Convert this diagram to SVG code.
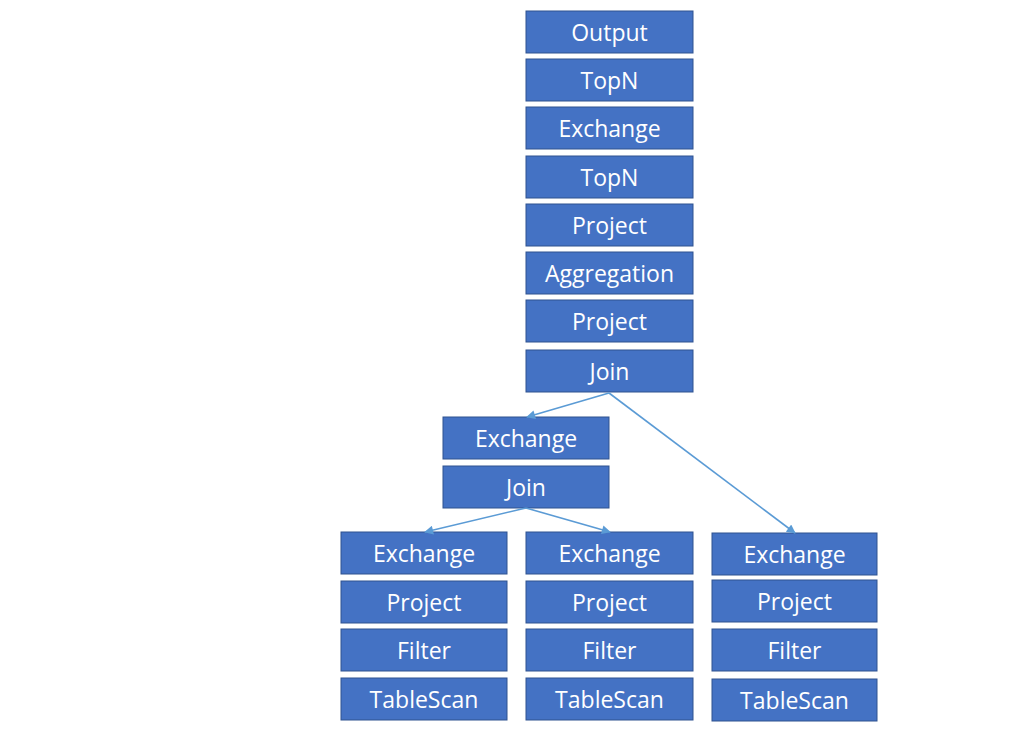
<svg xmlns="http://www.w3.org/2000/svg" width="1026" height="729" viewBox="0 0 1026 729">
<style>
.b{fill:#4472C4;stroke:#2F528F;stroke-width:1}
.t{fill:#fff;font-family:"Open Sans","Liberation Sans",sans-serif;font-size:23px;text-anchor:middle;dominant-baseline:central}
.c{stroke:#5B9BD5;stroke-width:1.6;fill:none;marker-end:url(#ah)}
</style>
<defs>
<marker id="ah" viewBox="0 0 10 10" refX="9" refY="5" markerWidth="10" markerHeight="9" markerUnits="userSpaceOnUse" orient="auto"><path d="M0,0L10,5L0,10z" fill="#5B9BD5"/></marker>
</defs>
<rect width="1026" height="729" fill="#fff"/>
<g id="n1"><rect class="b" x="526" y="11" width="167" height="42"/><text class="t" x="609.5" y="32">Output</text></g>
<g id="n2"><rect class="b" x="526" y="59" width="167" height="42"/><text class="t" x="609.5" y="80">TopN</text></g>
<g id="n3"><rect class="b" x="526" y="107" width="167" height="42"/><text class="t" x="609.5" y="128">Exchange</text></g>
<g id="n4"><rect class="b" x="526" y="156" width="167" height="42"/><text class="t" x="609.5" y="177">TopN</text></g>
<g id="n5"><rect class="b" x="526" y="204" width="167" height="42"/><text class="t" x="609.5" y="225">Project</text></g>
<g id="n6"><rect class="b" x="526" y="252" width="167" height="42"/><text class="t" x="609.5" y="273">Aggregation</text></g>
<g id="n7"><rect class="b" x="526" y="300" width="167" height="42"/><text class="t" x="609.5" y="321">Project</text></g>
<g id="n8"><rect class="b" x="526" y="350" width="167" height="42"/><text class="t" x="609.5" y="371">Join</text></g>
<g id="n9"><rect class="b" x="443" y="417" width="166" height="42"/><text class="t" x="526" y="438">Exchange</text></g>
<g id="n10"><rect class="b" x="443" y="466" width="166" height="42"/><text class="t" x="526" y="487">Join</text></g>
<g id="n11"><rect class="b" x="341" y="532" width="166" height="42"/><text class="t" x="424" y="553">Exchange</text></g>
<g id="n12"><rect class="b" x="341" y="581" width="166" height="42"/><text class="t" x="424" y="602">Project</text></g>
<g id="n13"><rect class="b" x="341" y="629" width="166" height="42"/><text class="t" x="424" y="650">Filter</text></g>
<g id="n14"><rect class="b" x="341" y="678" width="166" height="42"/><text class="t" x="424" y="699">TableScan</text></g>
<g id="n15"><rect class="b" x="526" y="532" width="167" height="42"/><text class="t" x="609.5" y="553">Exchange</text></g>
<g id="n16"><rect class="b" x="526" y="581" width="167" height="42"/><text class="t" x="609.5" y="602">Project</text></g>
<g id="n17"><rect class="b" x="526" y="629" width="167" height="42"/><text class="t" x="609.5" y="650">Filter</text></g>
<g id="n18"><rect class="b" x="526" y="678" width="167" height="42"/><text class="t" x="609.5" y="699">TableScan</text></g>
<g id="n19"><rect class="b" x="712" y="533" width="165" height="42"/><text class="t" x="794.5" y="554">Exchange</text></g>
<g id="n20"><rect class="b" x="712" y="580" width="165" height="42"/><text class="t" x="794.5" y="601">Project</text></g>
<g id="n21"><rect class="b" x="712" y="629" width="165" height="42"/><text class="t" x="794.5" y="650">Filter</text></g>
<g id="n22"><rect class="b" x="712" y="679" width="165" height="42"/><text class="t" x="794.5" y="700">TableScan</text></g>
<g id="connectors">
<line class="c" x1="609" y1="393" x2="527" y2="417"/>
<line class="c" x1="609" y1="393" x2="795" y2="533"/>
<line class="c" x1="526" y1="508" x2="425" y2="532"/>
<line class="c" x1="526" y1="508" x2="610" y2="532"/>
</g>
</svg>
